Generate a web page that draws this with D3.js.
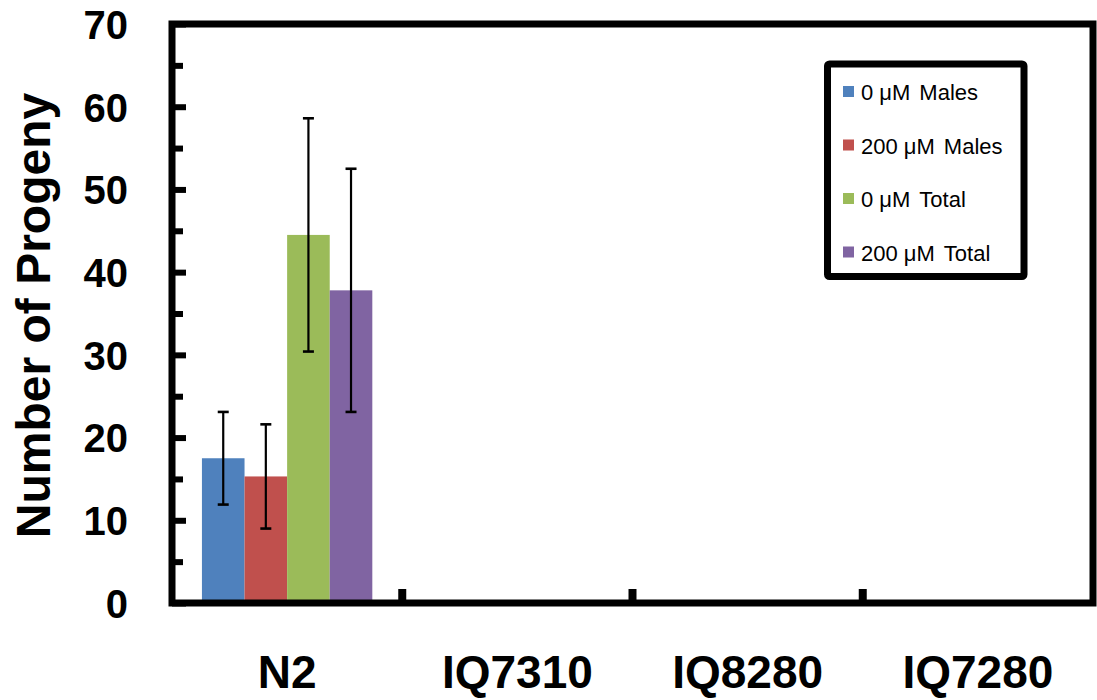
<!DOCTYPE html>
<html>
<head>
<meta charset="utf-8">
<script src="https://cdn.jsdelivr.net/npm/d3@7"></script>
<style>
  html, body { margin: 0; padding: 0; background: #fff; }
  svg { display: block; }
  text { font-family: "Liberation Sans", Arial, sans-serif; fill: #000; }
</style>
</head>
<body>
<svg id="chart" width="1097" height="700"></svg>
<script>
// Strains on the x axis
const categories = ["N2", "IQ7310", "IQ8280", "IQ7280"];

// Series names (legend order)
const seriesNames = ["0 μM Males", "200 μM Males", "0 μM Total", "200 μM Total"];
const seriesColors = ["#4F81BD", "#C0504D", "#9BBB59", "#8064A2"];

// Mean progeny per strain (null = no data)
const males0 = [17.5, null, null, null];
const males200 = [15.3, null, null, null];
const total0 = [44.5, null, null, null];
const total200 = [37.8, null, null, null];

// Error bar half-widths
const males0Err = [5.6, null, null, null];
const males200Err = [6.3, null, null, null];
const total0Err = [14.1, null, null, null];
const total200Err = [14.7, null, null, null];

// Y axis ticks
const yMajorTicks = [0, 10, 20, 30, 40, 50, 60, 70];
const yMinorTicks = [5, 15, 25, 35, 45, 55, 65];

const values = [males0, males200, total0, total200];
const errors = [males0Err, males200Err, total0Err, total200Err];

const svg = d3.select("#chart");
const plotLeft = 172, plotRight = 1093, plotTop = 24, plotBottom = 603;

const y = d3.scaleLinear().domain([0, 70]).range([plotBottom, plotTop]);
const x0 = d3.scaleBand().domain(categories).range([plotLeft, plotRight]).padding(0);
const bw = x0.bandwidth();
const groupPad = bw * 0.13;
const x1 = d3.scaleBand().domain(seriesNames).range([groupPad, bw - groupPad]).padding(0);

// Bars
const rows = [];
categories.forEach((c, ci) => {
  seriesNames.forEach((s, si) => {
    const v = values[si][ci];
    if (v != null) rows.push({ c, s, si, v, e: errors[si][ci] });
  });
});

svg.append("g").selectAll("rect").data(rows).join("rect")
  .attr("x", d => x0(d.c) + x1(d.s))
  .attr("y", d => y(d.v))
  .attr("width", x1.bandwidth())
  .attr("height", d => y(0) - y(d.v))
  .attr("fill", d => seriesColors[d.si]);

// Error bars
const eb = svg.append("g").attr("stroke", "#000").attr("stroke-width", 2.2);
const errRows = rows.filter(d => d.e != null);
const cx = d => x0(d.c) + x1(d.s) + x1.bandwidth() / 2;
eb.selectAll("line.v").data(errRows).join("line").attr("class", "v")
  .attr("x1", cx).attr("x2", cx)
  .attr("y1", d => y(d.v + d.e)).attr("y2", d => y(d.v - d.e));
eb.selectAll("line.t").data(errRows).join("line").attr("class", "t")
  .attr("x1", d => cx(d) - 5.5).attr("x2", d => cx(d) + 5.5)
  .attr("y1", d => y(d.v + d.e)).attr("y2", d => y(d.v + d.e)).attr("stroke-width", 2.6);
eb.selectAll("line.b").data(errRows).join("line").attr("class", "b")
  .attr("x1", d => cx(d) - 5.5).attr("x2", d => cx(d) + 5.5)
  .attr("y1", d => y(d.v - d.e)).attr("y2", d => y(d.v - d.e)).attr("stroke-width", 2.6);

// Inward y ticks (major and minor)
const yMajor = svg.append("g").attr("transform", `translate(${plotLeft},0)`)
  .call(d3.axisRight(y).tickValues(yMajorTicks).tickSize(14).tickFormat(""));
const yMinor = svg.append("g").attr("transform", `translate(${plotLeft},0)`)
  .call(d3.axisRight(y).tickValues(yMinorTicks).tickSize(11).tickFormat(""));
[yMajor, yMinor].forEach(g => {
  g.select(".domain").remove();
  g.selectAll(".tick line").attr("stroke", "#000").attr("stroke-width", 6);
});

// Y tick labels
const yLab = svg.append("g").attr("transform", `translate(${plotLeft},0)`)
  .call(d3.axisLeft(y).tickValues(yMajorTicks).tickSize(0).tickPadding(44));
yLab.select(".domain").remove();
yLab.selectAll("text")
  .attr("font-size", 40).attr("font-weight", "bold")
  .attr("font-family", "'Liberation Sans', Arial, sans-serif")
  .attr("fill", "#000").attr("dy", "0.36em");

// Category boundary ticks along the bottom
const xt = svg.append("g").attr("stroke", "#000").attr("stroke-width", 8);
xt.selectAll("line").data(categories.slice(1)).join("line")
  .attr("x1", d => x0(d)).attr("x2", d => x0(d))
  .attr("y1", plotBottom).attr("y2", plotBottom - 14);

// Category labels
const xLab = svg.append("g").attr("transform", `translate(0,${plotBottom})`)
  .call(d3.axisBottom(x0).tickSize(0).tickPadding(0));
xLab.select(".domain").remove();
xLab.selectAll("text")
  .attr("font-size", 46).attr("font-weight", "bold")
  .attr("font-family", "'Liberation Sans', Arial, sans-serif")
  .attr("fill", "#000").attr("y", 85).attr("dy", 0);

// Plot frame
svg.append("rect")
  .attr("x", plotLeft).attr("y", plotTop)
  .attr("width", plotRight - plotLeft).attr("height", plotBottom - plotTop)
  .attr("fill", "none").attr("stroke", "#000").attr("stroke-width", 7);

// Y axis title
svg.append("text")
  .attr("transform", `translate(50,${(plotTop + plotBottom) / 2 + 2}) rotate(-90)`)
  .attr("text-anchor", "middle")
  .attr("font-size", 48).attr("font-weight", "bold")
  .text("Number of Progeny");

// Legend
const lg = svg.append("g");
lg.append("rect")
  .attr("x", 827.5).attr("y", 64).attr("width", 196.5).attr("height", 212.5)
  .attr("rx", 2).attr("fill", "#fff").attr("stroke", "#000").attr("stroke-width", 7);
const items = lg.selectAll("g.item").data(seriesNames).join("g").attr("class", "item")
  .attr("transform", (d, i) => `translate(843,${86 + i * 53.5})`);
items.append("rect").attr("width", 11).attr("height", 11).attr("fill", (d, i) => seriesColors[i]);
items.append("text").attr("x", 18).attr("y", 14).attr("font-size", 22)
  .each(function (d) {
    const parts = d.split(" ");
    const t = d3.select(this);
    t.append("tspan").text(parts[0] + " " + parts[1]);
    t.append("tspan").attr("dx", 9).text(parts.slice(2).join(" "));
  });
</script>
</body>
</html>
